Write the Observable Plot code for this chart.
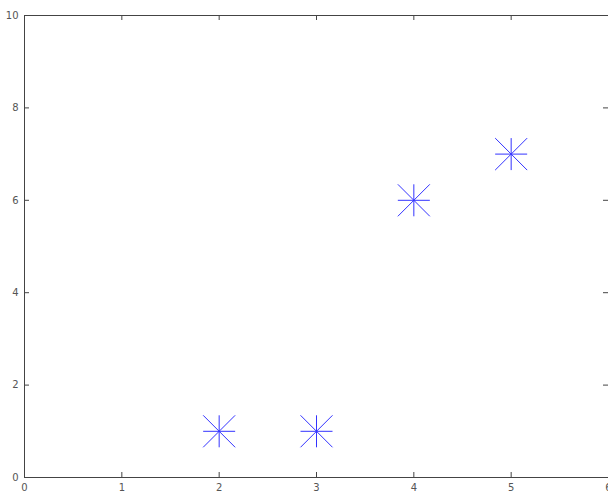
<!DOCTYPE html>
<html><head><meta charset="utf-8">
<script src="https://cdn.jsdelivr.net/npm/d3@7"></script>
<script src="https://cdn.jsdelivr.net/npm/@observablehq/plot@0.6"></script>
<style>body{margin:0;background:#fff}</style>
</head><body><div id="chart"></div>
<script>
const xs = [2, 3, 4, 5];
const ys = [1, 1, 6, 7];
const xTicks = [0, 1, 2, 3, 4, 5, 6];
const yTicks = [0, 2, 4, 6, 8, 10];
const data = xs.map((x, i) => ({x, y: ys[i]}));

const star = {
  draw(context, size) {
    const r = Math.sqrt(size / Math.PI);
    context.moveTo(-r, 0); context.lineTo(r, 0);
    context.moveTo(0, -r); context.lineTo(0, r);
    context.moveTo(-r, -r); context.lineTo(r, r);
    context.moveTo(-r, r); context.lineTo(r, -r);
  }
};

const W = 608, H = 493, mL = 24, mR = 0, mT = 15, mB = 16;
const plotW = W - mL - mR, plotH = H - mT - mB;
const tickLen = 5;

const chart = Plot.plot({
  width: W, height: H,
  marginLeft: mL, marginRight: mR, marginTop: mT, marginBottom: mB,
  style: {fontFamily: "DejaVu Sans, sans-serif", fontSize: "10px", background: "#fff", color: "#555"},
  x: {domain: [0, 6], ticks: xTicks},
  y: {domain: [0, 10], ticks: yTicks},
  marks: [
    Plot.axisX(xTicks, {tickSize: 0, tickPadding: 6, label: null, fill: "#555", fontSize: 10}),
    Plot.axisY(yTicks, {tickSize: 0, tickPadding: 6, label: null, fill: "#555", fontSize: 10}),
    Plot.tickX(xTicks, {x: d => d, insetTop: plotH - tickLen, stroke: "#444"}),
    Plot.tickX(xTicks, {x: d => d, insetBottom: plotH - tickLen, stroke: "#444"}),
    Plot.tickY(yTicks, {y: d => d, insetRight: plotW - tickLen, stroke: "#444"}),
    Plot.tickY(yTicks, {y: d => d, insetLeft: plotW - tickLen, stroke: "#444"}),
    Plot.ruleX([0], {stroke: "#444"}),
    Plot.ruleY([0, 10], {stroke: "#444"}),
    Plot.dot(data, {x: "x", y: "y", symbol: star, r: 16, stroke: "#3333ff", strokeWidth: 1})
  ]
});
document.getElementById("chart").appendChild(chart);
</script></body></html>
